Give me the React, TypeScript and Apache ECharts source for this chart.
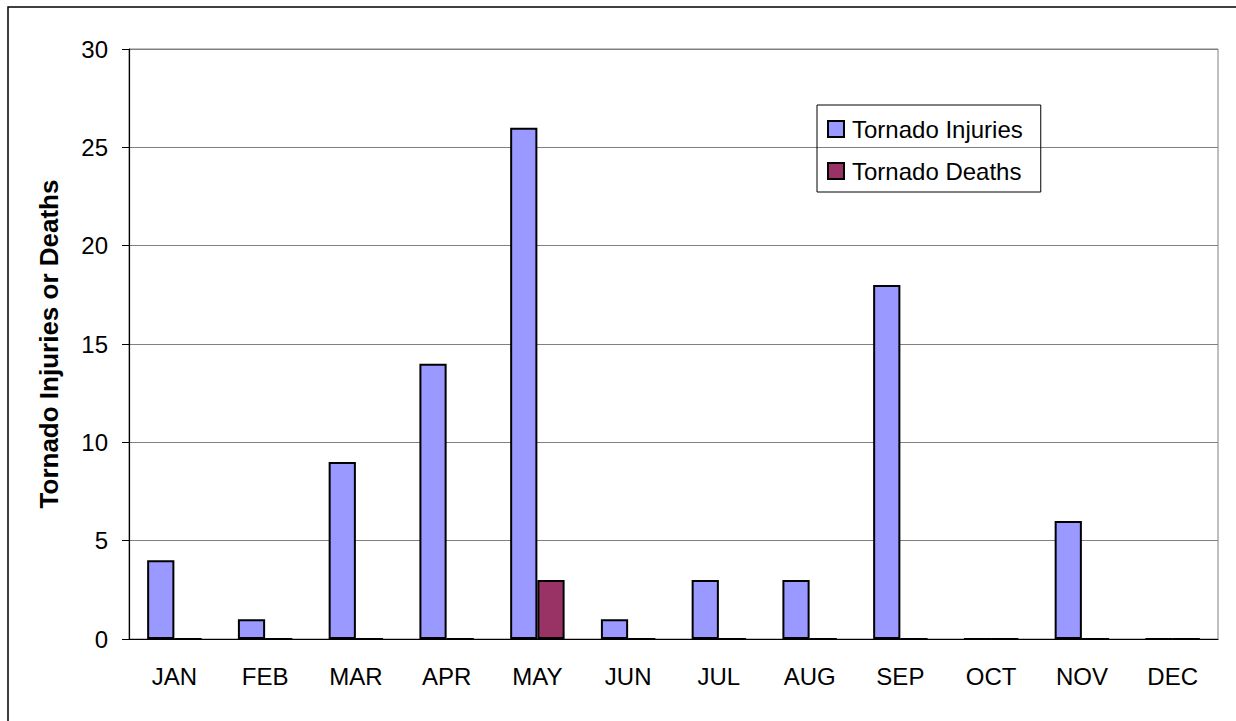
import React, { useEffect, useRef } from "react";
import * as echarts from "echarts";

const months = ["JAN", "FEB", "MAR", "APR", "MAY", "JUN", "JUL", "AUG", "SEP", "OCT", "NOV", "DEC"];
const injuries = [4, 1, 9, 14, 26, 1, 3, 3, 18, 0, 6, 0];
const deaths = [0, 0, 0, 0, 3, 0, 0, 0, 0, 0, 0, 0];
const yTicks = { min: 0, max: 30, interval: 5 };

export default function App() {
  const ref = useRef<HTMLDivElement>(null);
  useEffect(() => {
    if (!ref.current) return;
    const chart = echarts.init(ref.current, null, { renderer: "svg" });
    const font = "'Liberation Sans', Arial, sans-serif";
    chart.setOption({
      animation: false,
      backgroundColor: "#ffffff",
      textStyle: { fontFamily: font },
      graphic: [
        {
          type: "rect",
          shape: { x: 8, y: 7, width: 1240, height: 730 },
          style: { fill: "none", stroke: "#000", lineWidth: 1.5 },
          silent: true,
          z: -1,
        },
      ],
      grid: {
        left: 129,
        top: 49,
        width: 1089,
        height: 590,
        show: true,
        borderColor: "#808080",
        borderWidth: 1,
      },
      legend: {
        orient: "vertical",
        left: 817,
        top: 105,
        padding: [12, 18, 9, 10],
        itemGap: 18,
        itemWidth: 16,
        itemHeight: 16,
        icon: "rect",
        borderColor: "#000",
        borderWidth: 1,
        textStyle: { fontFamily: font, fontSize: 24, lineHeight: 24, color: "#000", padding: [0, 0, 0, 3] },
        data: ["Tornado Injuries", "Tornado Deaths"],
      },
      xAxis: {
        type: "category",
        data: months,
        axisLine: { lineStyle: { color: "#000", width: 1.2 } },
        axisTick: { show: false },
        axisLabel: { fontFamily: font, fontSize: 24, color: "#000", margin: 25 },
      },
      yAxis: {
        type: "value",
        min: yTicks.min,
        max: yTicks.max,
        interval: yTicks.interval,
        name: "Tornado Injuries or Deaths",
        nameLocation: "middle",
        nameGap: 67,
        nameTextStyle: { fontFamily: font, fontSize: 26, fontWeight: "bold", color: "#000" },
        axisLine: { show: true, lineStyle: { color: "#000", width: 1.2 } },
        axisTick: { show: true, length: 7, inside: false, lineStyle: { color: "#000" } },
        axisLabel: { fontFamily: font, fontSize: 24, color: "#000", margin: 21 },
        splitLine: { show: true, lineStyle: { color: "#808080", width: 1 } },
      },
      series: [
        {
          name: "Tornado Injuries",
          type: "bar",
          data: injuries,
          barGap: "0%",
          barCategoryGap: "40%",
          itemStyle: { color: "#9999FF", borderColor: "#000", borderWidth: 2 },
        },
        {
          name: "Tornado Deaths",
          type: "bar",
          data: deaths,
          itemStyle: { color: "#993366", borderColor: "#000", borderWidth: 2 },
        },
      ],
    });
    return () => chart.dispose();
  }, []);
  return (
    <div
      ref={ref}
      style={{ position: "absolute", left: 0, top: 0, width: 1236, height: 721 }}
    />
  );
}
